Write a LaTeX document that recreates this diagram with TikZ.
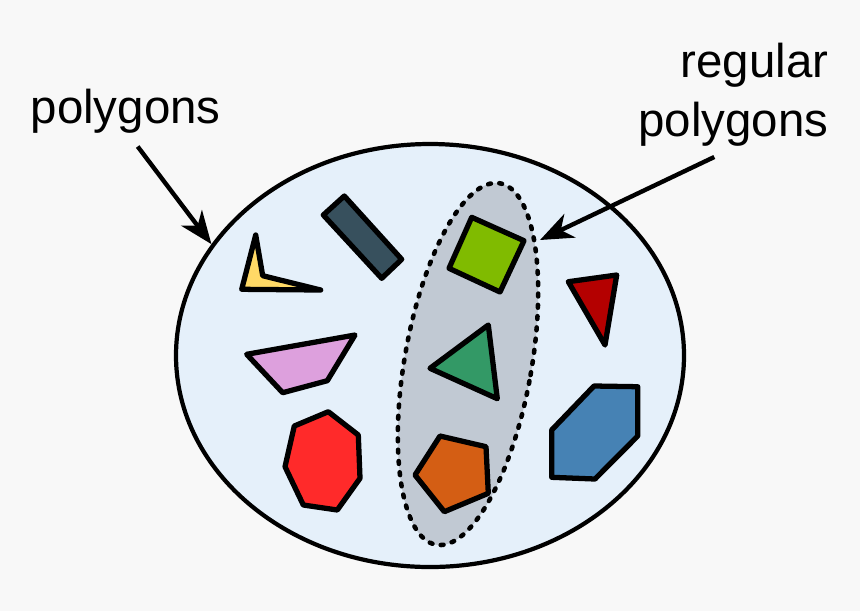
\documentclass[tikz,border=0pt]{standalone}
\usepackage{fontspec}
\setmainfont{Liberation Sans}
\usepackage{tikz}
\usetikzlibrary{positioning, arrows.meta, shapes.geometric}

\definecolor{bgcol}{HTML}{F8F8F8}
\definecolor{setcol}{HTML}{E5F0FA}
\definecolor{regcol}{HTML}{C1C9D3}
\definecolor{yellowcol}{HTML}{FFD966}
\definecolor{slatecol}{HTML}{37505D}
\definecolor{plumcol}{HTML}{DDA0DD}
\definecolor{redcol}{HTML}{FF2A2A}
\definecolor{limecol}{HTML}{80BB00}
\definecolor{greencol}{HTML}{339966}
\definecolor{orangecol}{HTML}{D45E14}
\definecolor{darkredcol}{HTML}{B40000}
\definecolor{bluecol}{HTML}{4682B4}

\tikzset{
    poly/.style={draw=black, line width=1.5pt, line join=round},
    lbl/.style={font=\fontsize{13.5}{16.8}\selectfont, inner sep=1mm},
    pointer/.style={-{Stealth[length=3.3mm, width=2.6mm, inset=1mm]}, line width=1.25pt, shorten <=1mm}
}

\begin{document}
\begin{tikzpicture}[x=0.1mm, y=-0.1mm]

    % Background
    \fill[bgcol] (0,0) rectangle (860,611);
    \useasboundingbox (0,0) rectangle (860,611);

    % Define sets
    \node[ellipse, draw, line width=1.2pt, fill=setcol, inner sep=0pt,
          minimum width=50.8mm, minimum height=42.3mm] (set) at (430,355.5) {};
    \node[ellipse, draw, line width=1.3pt, fill=regcol, inner sep=0pt, rotate=-10,
          dash pattern=on 0.28mm off 0.85mm, line cap=round,
          minimum width=12.7mm, minimum height=36.7mm] (reg) at (468,364) {};
    \coordinate (regtip) at (540,240);

    % Irregular polygons
    \draw[poly, fill=yellowcol] (255.7,235) -- (262.7,275.7) -- (320.7,290) -- (241.7,289.3) -- cycle;
    \draw[poly, fill=slatecol] (344.3,196) -- (401.7,259.3) -- (381.7,278.3) -- (323.3,215) -- cycle;
    \draw[poly, fill=plumcol] (246.7,354.3) -- (355,335) -- (327.3,380.7) -- (282.7,392.7) -- cycle;
    \draw[poly, fill=redcol] (328.3,411.7) -- (358.3,435) -- (360,478.3) -- (337.3,510)
        -- (303.3,505) -- (285,466.7) -- (294.3,426) -- cycle;
    \draw[poly, fill=darkredcol] (568.3,281.7) -- (616.7,275) -- (605,345) -- cycle;
    \draw[poly, fill=bluecol] (594,386) -- (637.7,386.7) -- (637.7,436) -- (595,479)
        -- (551.7,477.3) -- (551.7,430) -- cycle;

    % Regular polygons
    \draw[poly, fill=limecol] (471.7,217.3) -- (524,240.7) -- (500,292) -- (449,268.3) -- cycle;
    \draw[poly, fill=greencol] (488.3,325) -- (497.3,398.7) -- (430,368.3) -- cycle;
    \draw[poly, fill=orangecol] (440,436) -- (486,446.7) -- (488.3,493.3) -- (444.3,511.7) -- (415,475) -- cycle;

    % Labels
    \node[lbl, anchor=base west, inner sep=0pt] (polylbl) at (30,123) {polygons};
    \node[lbl, anchor=north east, align=right, inner sep=0pt] (reglbl) at (829,42) {regular\\polygons};

    % Draw pointers
    \draw[pointer] (polylbl.south) ++(6,5) -- (set.153);
    \draw[pointer] (reglbl.south) ++(-10,6) -- (regtip);

\end{tikzpicture}
\end{document}
